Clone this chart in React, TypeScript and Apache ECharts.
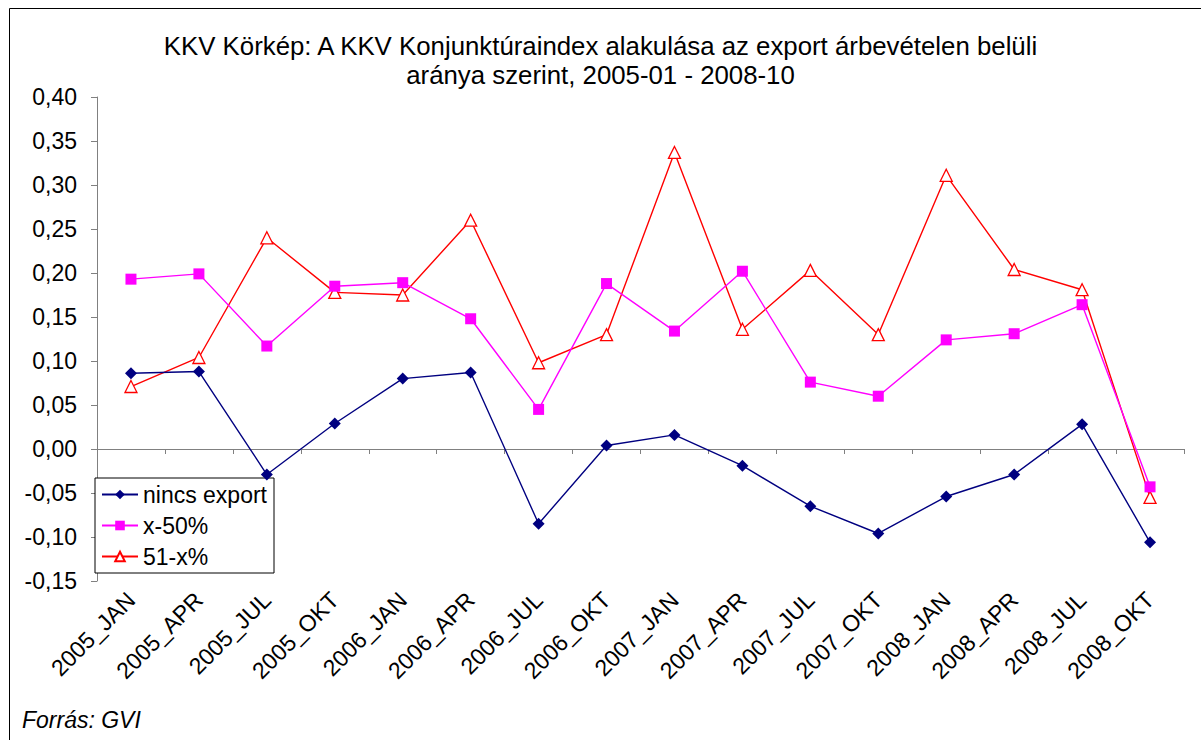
import React, { useEffect, useRef } from "react";
import * as echarts from "echarts";

const categories = [
  "2005_JAN", "2005_APR", "2005_JUL", "2005_OKT",
  "2006_JAN", "2006_APR", "2006_JUL", "2006_OKT",
  "2007_JAN", "2007_APR", "2007_JUL", "2007_OKT",
  "2008_JAN", "2008_APR", "2008_JUL", "2008_OKT",
];

const nincsExport = [0.086, 0.088, -0.029, 0.029, 0.080, 0.087, -0.085, 0.004, 0.016, -0.019, -0.065, -0.096, -0.054, -0.029, 0.028, -0.106];
const x50 = [0.193, 0.199, 0.117, 0.185, 0.189, 0.148, 0.045, 0.188, 0.134, 0.202, 0.076, 0.060, 0.124, 0.131, 0.164, -0.043];
const x51 = [0.071, 0.104, 0.240, 0.178, 0.175, 0.260, 0.098, 0.130, 0.337, 0.136, 0.203, 0.130, 0.311, 0.204, 0.181, -0.055];

const seriesNames = ["nincs export", "x-50%", "51-x%"];
const titleText = "KKV Körkép: A KKV Konjunktúraindex alakulása az export árbevételen belüli\naránya szerint, 2005-01 - 2008-10";
const sourceText = "Forrás: GVI";

const FONT = "'Liberation Sans', Arial, sans-serif";

export default function App() {
  const ref = useRef<HTMLDivElement>(null);
  useEffect(() => {
    if (!ref.current) return;
    const chart = echarts.init(ref.current, undefined, { renderer: "svg" });
    chart.setOption({
      animation: false,
      backgroundColor: "#ffffff",
      textStyle: { fontFamily: FONT },
      title: {
        text: titleText,
        left: "center",
        top: 26,
        textStyle: {
          fontFamily: FONT,
          fontSize: 25.8,
          fontWeight: "normal",
          color: "#000",
          lineHeight: 29,
        },
      },
      legend: {
        orient: "vertical",
        left: 95,
        top: 478,
        backgroundColor: "#ffffff",
        borderColor: "#000",
        borderWidth: 1,
        borderRadius: 0,
        padding: [5, 7, 5, 6],
        itemWidth: 36,
        itemHeight: 12,
        itemGap: 8,
        data: seriesNames,
        textStyle: { fontFamily: FONT, fontSize: 23, color: "#000" },
      },
      grid: { left: 97, right: 17, top: 97, bottom: 159, containLabel: false },
      xAxis: {
        type: "category",
        data: categories,
        boundaryGap: true,
        axisLine: { lineStyle: { color: "#808080", width: 1 } },
        axisTick: { show: true, length: 5, lineStyle: { color: "#808080" } },
        axisLabel: {
          interval: 0,
          rotate: 45,
          margin: 15,
          fontSize: 23,
          fontFamily: FONT,
          color: "#000",
        },
        splitLine: { show: false },
      },
      yAxis: {
        type: "value",
        min: -0.15,
        max: 0.4,
        interval: 0.05,
        axisLine: { show: true, lineStyle: { color: "#808080", width: 1 } },
        axisTick: { show: true, length: 6, lineStyle: { color: "#808080" } },
        axisLabel: {
          margin: 20,
          fontSize: 23,
          fontFamily: FONT,
          color: "#000",
          formatter: (v: number) => {
            const s = (Math.round(v * 100) / 100).toFixed(2).replace(".", ",");
            return s === "-0,00" ? "0,00" : s;
          },
        },
        splitLine: { show: false },
      },
      series: [
        {
          name: seriesNames[0],
          type: "line",
          data: nincsExport,
          symbol: "diamond",
          symbolSize: 12,
          lineStyle: { color: "#000080", width: 1.4 },
          itemStyle: { color: "#000080" },
          z: 4,
        },
        {
          name: seriesNames[1],
          type: "line",
          data: x50,
          symbol: "rect",
          symbolSize: 11,
          lineStyle: { color: "#FF00FF", width: 1.4 },
          itemStyle: { color: "#FF00FF" },
          z: 3,
        },
        {
          name: seriesNames[2],
          type: "line",
          data: x51,
          symbol: "triangle",
          symbolSize: 12,
          lineStyle: { color: "#FF0000", width: 1.4 },
          itemStyle: { color: "#ffffff", borderColor: "#FF0000", borderWidth: 1.3 },
          z: 2,
        },
      ],
      graphic: [
        {
          type: "rect",
          shape: { x: 9.5, y: 8.5, width: 1300, height: 800 },
          style: { fill: "none", stroke: "#000", lineWidth: 1 },
          silent: true,
          z: -1,
        },
        {
          type: "text",
          left: 22,
          top: 708,
          style: {
            text: sourceText,
            fontFamily: FONT,
            fontSize: 23,
            fontStyle: "italic",
            fill: "#000",
          },
        },
      ],
    });
    return () => chart.dispose();
  }, []);
  return (
    <div
      ref={ref}
      style={{ position: "absolute", left: 0, top: 0, width: 1201, height: 740 }}
    />
  );
}
